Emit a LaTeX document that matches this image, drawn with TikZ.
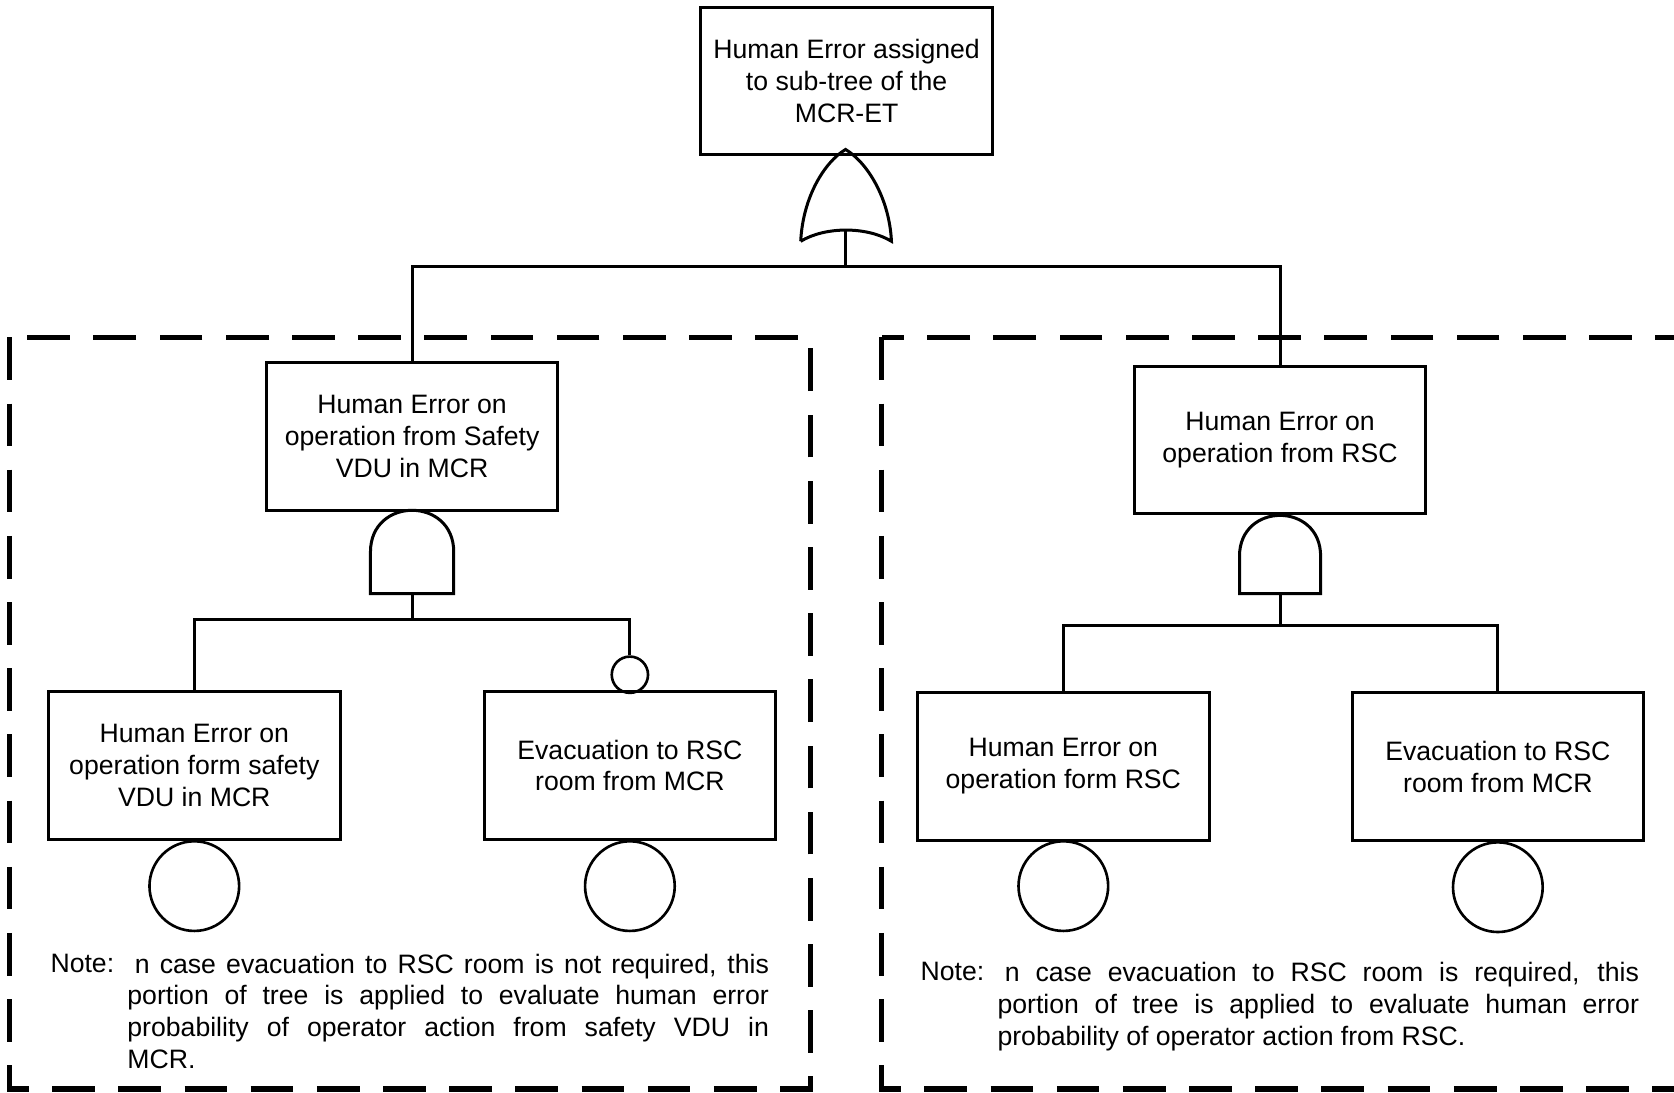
\documentclass[tikz,border=0pt]{standalone}
\usepackage{fontspec}
\setmainfont{Liberation Sans}
\begin{document}
\begin{tikzpicture}[x=0.02cm, y=-0.02cm,
  evt/.style = {draw, line width=1.6pt, minimum width=5.46cm, minimum height=2.76cm, align=center, inner sep=2pt, font=\fontsize{14.2}{17}\selectfont},
  bev/.style = {draw, circle, line width=1.4pt, minimum size=1.68cm, inner sep=0pt},
  cond/.style = {draw, circle, line width=1.4pt, minimum size=0.68cm, inner sep=0pt},
  gate/.style = {line width=1.6pt}, wire/.style = {line width=1.6pt},
  zone/.style = {line width=2.8pt, dash pattern=on 0.8cm off 0.44cm},
  note/.style = {anchor=north west, inner sep=0pt, font=\fontsize{14.2}{17}\selectfont},
  notetext/.style = {note, text width=12.02cm, align=justify}]
\useasboundingbox (0,0) rectangle (1568,1023);
\draw[zone] (9,316) rectangle (759,1020); \draw[zone] (826,316) rectangle (1620,1020);
\node[evt](top) at (793,76) {Human Error assigned\\to sub-tree of the\\MCR-ET};
\node[evt](l1) at (386,409) {Human Error on\\operation from Safety\\VDU in MCR}; \node[evt](r1) at (1199,412) {Human Error on\\operation from RSC};
\node[evt](l2) at (182,717) {Human Error on\\operation form safety\\VDU in MCR}; \node[evt](l3) at (590,717) {Evacuation to RSC\\room from MCR};
\node[evt](r2) at (996,718) {Human Error on\\operation form RSC}; \node[evt](r3) at (1403,718) {Evacuation to RSC\\room from MCR};
\node[bev](l2e) at (182,830) {}; \node[bev](l3e) at (590,830) {}; \node[bev](r2e) at (996,830) {}; \node[bev](r3e) at (1403,831) {};
\node[cond](l3h) at (590,632) {};
\draw[gate] (750,226) .. controls (752,185) and (772,152) .. (792,140) .. controls (812,152) and (833,185) .. (835,226) .. controls (812,212) and (773,212) .. (750,226);
\draw[gate] (347,556) -- (347,517) .. controls (347,465) and (425,465) .. (425,517) -- (425,556) -- cycle;
\draw[gate] (1161,556) -- (1161,521) .. controls (1161,470) and (1237,470) .. (1237,521) -- (1237,556) -- cycle;
\coordinate (g0) at (792,216); \coordinate (j0) at (792,250); \coordinate (g1) at (386,556); \coordinate (j1) at (386,580); \coordinate (g2) at (1199,556); \coordinate (j2) at (1199,586);
\draw[wire] (g0) -- (j0); \draw[wire] (j0) -| (l1.north); \draw[wire] (j0) -| (r1.north);
\draw[wire] (g1) -- (j1); \draw[wire] (j1) -| (l2.north); \draw[wire] (j1) -| (l3h.north);
\draw[wire] (g2) -- (j2); \draw[wire] (j2) -| (r2.north); \draw[wire] (j2) -| (r3.north);
\node[note](ln) at (47,893) {Note:};
\node[notetext](lt) at (119,893) {\hphantom{I}n case evacuation to RSC room is not required, this\linebreak portion of tree is applied to evaluate human error\linebreak probability of operator action from safety VDU in\linebreak MCR.};
\node[note](rn) at (862,901) {Note:};
\node[notetext](rt) at (934,901) {\hphantom{I}n case evacuation to RSC room is required, this\linebreak portion of tree is applied to evaluate human error\linebreak probability of operator action from RSC.};
\end{tikzpicture}
\end{document}
